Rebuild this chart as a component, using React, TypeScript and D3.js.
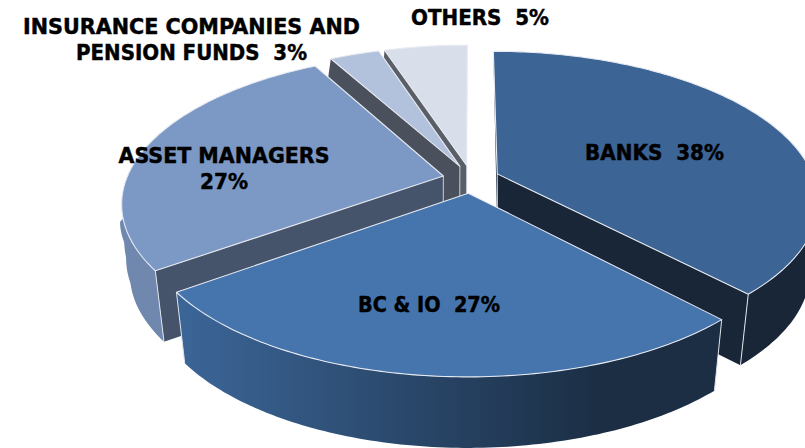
import React from "react";
import * as d3 from "d3";

const categories = ["BANKS", "BC & IO", "ASSET MANAGERS", "INSURANCE COMPANIES AND PENSION FUNDS", "OTHERS"];
const shares = [38, 27, 27, 3, 5];
const topColors = ["#3c6494", "#4675ae", "#7c98c4", "#b2c2dc", "#d8dfeb"];
const radialColors = ["#182638", "#223a58", "#45536b", "#4a505c", "#5a5e66"];
const wallFrom = ["#182638", "#3b6597", "#7088ae", "#8a99b0", "#a0a8b4"];
const wallTo = ["#182638", "#1b2e44", "#64799e", "#8a99b0", "#a0a8b4"];
const drawOrder = [4, 3, 2, 0, 1];
const labels = [
  { lines: [{ t: "BANKS  38%", w: 139 }], x: 654.5, y: 160 },
  { lines: [{ t: "BC & IO  27%", w: 142 }], x: 429, y: 312 },
  { lines: [{ t: "ASSET MANAGERS", w: 211 }, { t: "27%", w: 48 }], x: 224, y: 163 },
  { lines: [{ t: "INSURANCE COMPANIES AND", w: 337 }, { t: "PENSION FUNDS  3%", w: 231 }], x: 191.5, y: 34 },
  { lines: [{ t: "OTHERS  5%", w: 138 }], x: 480, y: 25 },
];

const W = 805, H = 448;
const cx = 471, cy = 179, a = 317, b = 145.8, k = 0.176;
const ex = 0.0896, ey = 0.096, depth = 71;
const frontStart = Math.PI / 2, frontEnd = 1.6 * Math.PI;
const shrinkScale = d3.scaleLinear()
  .domain([-1, -0.2, -0.05, 0.05, 0.22, 0.57, 1])
  .range([-0.07, -0.07, -0.015, 0.006, 0.024, 0.0275, 0.03]);

const project = (u: number, v: number, z: number): [number, number] => {
  const d = 1 - k * v;
  return [cx + ((a * u) / d) * (1 - shrinkScale(v) * z), cy + (b * v) / d + depth * z];
};

const line = d3.line();
const pie = d3.pie<number>().sort(null);
const arcs = pie(shares);
const inFront = (t: number) => t >= frontStart && t <= frontEnd;

export default function App() {
  const slices = drawOrder.map((i) => {
    const s = arcs[i];
    const mid = (s.startAngle + s.endAngle) / 2;
    const ox = ex * Math.sin(mid), oy = -ey * Math.cos(mid);
    const pt = (t: number, r: number, z: number) =>
      project(r * Math.sin(t) + ox, -r * Math.cos(t) + oy, z);
    const t0 = Math.max(s.startAngle, frontStart), t1 = Math.min(s.endAngle, frontEnd);
    const sweep = (from: number, to: number) => {
      const n = Math.max(8, Math.ceil((to - from) * 60));
      return d3.range(n + 1).map((j) => from + ((to - from) * j) / n);
    };
    const apexT = pt(0, 0, 0), apexB = pt(0, 0, 1);
    const face = (t: number): [number, number][] => [apexT, pt(t, 1, 0), pt(t, 1, 1), apexB];
    const fa = face(s.startAngle), fb = face(s.endAngle);
    const wts = t1 > t0 ? sweep(t0, t1) : [];
    const showA = d3.polygonArea(fa) > 0, showB = d3.polygonArea(fb) < 0;
    return {
      i,
      wall: wts.length ? line([...wts.map((t) => pt(t, 1, 0)), ...wts.slice().reverse().map((t) => pt(t, 1, 1))])! + "Z" : null,
      top: line([apexT, ...sweep(s.startAngle, s.endAngle).map((t) => pt(t, 1, 0))])! + "Z",
      faceA: showA ? line(fa)! + "Z" : null,
      faceB: showB ? line(fb)! + "Z" : null,
      spine: showA || showB ? line([apexT, apexB])! : null,
      cornerA: inFront(s.startAngle) ? line([pt(s.startAngle, 1, 0), pt(s.startAngle, 1, 1)])! : null,
      cornerB: inFront(s.endAngle) ? line([pt(s.endAngle, 1, 0), pt(s.endAngle, 1, 1)])! : null,
    };
  });

  return (
    <svg width={W} height={H} style={{ position: "absolute", left: 0, top: 0 }}>
      <defs>
        {categories.map((_, i) => (
          <linearGradient key={i} id={`wall${i}`} gradientUnits="userSpaceOnUse" x1={185} x2={600} y1={0} y2={0}>
            <stop offset="0" stopColor={wallFrom[i]} />
            <stop offset="1" stopColor={wallTo[i]} />
          </linearGradient>
        ))}
      </defs>
      {slices.map((s) => (
        <g key={s.i}>
          {s.faceA && <path d={s.faceA} fill={radialColors[s.i]} />}
          {s.faceB && <path d={s.faceB} fill={radialColors[s.i]} />}
          {s.spine && <path d={s.spine} stroke="#c9ced6" strokeWidth={1} fill="none" />}
          {s.wall && <path d={s.wall} fill={`url(#wall${s.i})`} />}
          {s.cornerA && <path d={s.cornerA} stroke="#dfe4ec" strokeWidth={1} fill="none" />}
          {s.cornerB && <path d={s.cornerB} stroke="#dfe4ec" strokeWidth={1} fill="none" />}
          <path d={s.top} fill={topColors[s.i]} stroke="#e6eaf1" strokeWidth={1.1} strokeLinejoin="round" />
        </g>
      ))}
      <g fontFamily="DejaVu Sans" fontWeight={700} fontSize={20.4} fill="#000" stroke="#000" strokeWidth={0.45} textAnchor="middle">
        {labels.map((l) =>
          l.lines.map((ln, j) => (
            <text key={ln.t} x={l.x} y={l.y + j * 26} xmlSpace="preserve" textLength={ln.w} lengthAdjust="spacingAndGlyphs" style={{ whiteSpace: "pre" }}>
              {ln.t}
            </text>
          ))
        )}
      </g>
    </svg>
  );
}
